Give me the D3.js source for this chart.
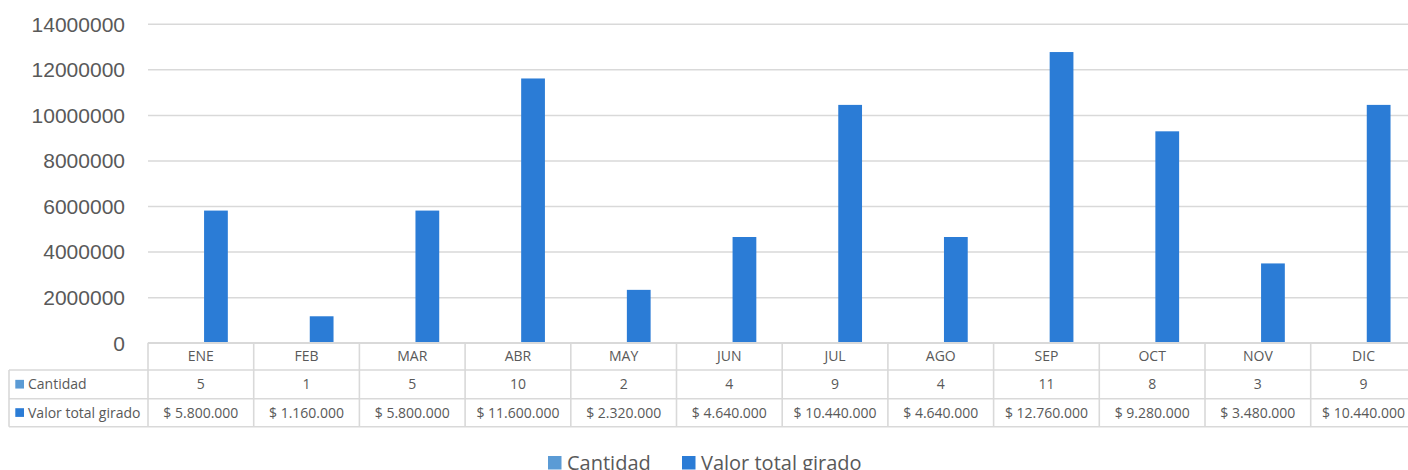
<!DOCTYPE html>
<html>
<head>
<meta charset="utf-8">
<script src="https://cdn.jsdelivr.net/npm/d3@7"></script>
<style>
  body { margin: 0; background: #fff; }
  svg { display: block; font-family: "Open Sans", sans-serif; }
  .axis text { fill: #595959; font-size: 21px; }
  .axis line { stroke: #d9d9d9; stroke-width: 1.5; }
  .cell { fill: #595959; font-size: 14px; }
  .legend text { fill: #595959; font-size: 20px; }
</style>
</head>
<body>
<script>
(function(){

  //chart data
  var months = ["ENE", "FEB", "MAR", "ABR", "MAY", "JUN", "JUL", "AGO", "SEP", "OCT", "NOV", "DIC"];
  var seriesNames = ["Cantidad", "Valor total girado"];
  var cantidad = [5, 1, 5, 10, 2, 4, 9, 4, 11, 8, 3, 9];
  var valor = [5800000, 1160000, 5800000, 11600000, 2320000, 4640000, 10440000, 4640000, 12760000, 9280000, 3480000, 10440000];
  var yTicks = [0, 2000000, 4000000, 6000000, 8000000, 10000000, 12000000, 14000000];
  var colors = ["#5b9bd5", "#2b7cd6"];

  var width = 1408, height = 470;
  var plotLeft = 148, plotRight = 148 + 12 * 105.7,
      plotTop = 23.8, plotBottom = 342.7;
  var tableLeft = 9, rowY = [342.7, 370, 398.7, 426.7];

  var svg = d3.select("body").append("svg")
      .attr("width", width)
      .attr("height", height);

  //scales
  var x = d3.scaleBand()
      .domain(months)
      .range([plotLeft, plotRight])
      .padding(0);

  var x1 = d3.scaleBand()
      .domain(seriesNames)
      .range([0, x.bandwidth()])
      .paddingInner(0.213)
      .paddingOuter(0.857);

  var y = d3.scaleLinear()
      .domain([0, 14000000])
      .range([plotBottom, plotTop]);

  //gridlines + labels
  var yAxis = d3.axisLeft(y)
      .tickValues(yTicks)
      .tickFormat(d3.format("d"))
      .tickSize(-(plotRight - plotLeft))
      .tickPadding(23);

  var axis = svg.append("g")
      .attr("class", "axis")
      .attr("transform", "translate(" + plotLeft + ",0)")
      .call(yAxis);
  axis.select(".domain").remove();
  axis.selectAll("text").attr("dy", "0.35em");

  //bars
  var rows = months.map(function(m, i){
      return {month: m, values: [cantidad[i], valor[i]]};
  });

  var groups = svg.selectAll(".month")
      .data(rows)
      .enter()
      .append("g")
      .attr("class", "month")
      .attr("transform", function(d){ return "translate(" + x(d.month) + ",0)"; });

  groups.selectAll("rect")
      .data(function(d){
          return d.values.map(function(v, j){ return {name: seriesNames[j], value: v, idx: j}; });
      })
      .enter()
      .append("rect")
      .attr("x", function(d){ return x1(d.name); })
      .attr("width", x1.bandwidth())
      .attr("y", function(d){ return y(d.value); })
      .attr("height", function(d){ return y(0) - y(d.value); })
      .attr("fill", function(d){ return colors[d.idx]; });

  //data table
  var grid = svg.append("g")
      .attr("stroke", "#d9d9d9")
      .attr("stroke-width", 1.6);

  grid.append("line")
      .attr("x1", plotLeft).attr("x2", plotRight)
      .attr("y1", rowY[0]).attr("y2", rowY[0]);
  rowY.slice(1).forEach(function(yy){
      grid.append("line")
          .attr("x1", tableLeft).attr("x2", plotRight)
          .attr("y1", yy).attr("y2", yy);
  });
  grid.append("line")
      .attr("x1", tableLeft).attr("x2", tableLeft)
      .attr("y1", rowY[1]).attr("y2", rowY[3]);
  months.concat(["end"]).forEach(function(m, i){
      var xx = plotLeft + i * x.step();
      grid.append("line")
          .attr("x1", xx).attr("x2", xx)
          .attr("y1", rowY[0]).attr("y2", rowY[3]);
  });

  var money = d3.formatLocale({decimal: ",", thousands: ".", grouping: [3], currency: ["$ ", ""]}).format("$,.0f");

  function rowCenter(r){ return (rowY[r] + rowY[r + 1]) / 2; }

  var tableRows = [
      {y: rowCenter(0), texts: months},
      {y: rowCenter(1), texts: cantidad.map(String)},
      {y: rowCenter(2), texts: valor.map(money)}
  ];

  tableRows.forEach(function(row){
      svg.append("g").selectAll("text")
          .data(row.texts)
          .enter()
          .append("text")
          .attr("class", "cell")
          .attr("x", function(d, i){ return x(months[i]) + x.bandwidth() / 2; })
          .attr("y", row.y)
          .attr("dy", "0.35em")
          .attr("text-anchor", "middle")
          .text(function(d){ return d; });
  });

  //row headers
  seriesNames.forEach(function(name, j){
      var cy = rowCenter(j + 1);
      svg.append("rect")
          .attr("x", 15.3).attr("y", cy - 4.5)
          .attr("width", 8.7).attr("height", 8.7)
          .attr("fill", colors[j]);
      svg.append("text")
          .attr("class", "cell")
          .attr("x", 28)
          .attr("y", cy)
          .attr("dy", "0.35em")
          .text(name);
  });

  //legend
  var legendItems = [{x: 548, name: seriesNames[0]}, {x: 682, name: seriesNames[1]}];
  var legend = svg.append("g").attr("class", "legend");
  legendItems.forEach(function(item, j){
      legend.append("rect")
          .attr("x", item.x).attr("y", 456)
          .attr("width", 13.5).attr("height", 13.5)
          .attr("fill", colors[j]);
      legend.append("text")
          .attr("x", item.x + 19)
          .attr("y", 462.5)
          .attr("dy", "0.35em")
          .text(item.name);
  });

})();
</script>
</body>
</html>
